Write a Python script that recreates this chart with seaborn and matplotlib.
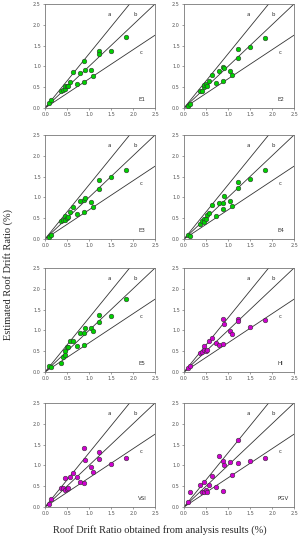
import numpy as np
import pandas as pd
import matplotlib
matplotlib.use("Agg")
import matplotlib.pyplot as plt
import seaborn as sns

# roof drift ratio from analysis results (%)
analysis = [0.08, 0.14, 0.36, 0.40, 0.45, 0.46, 0.50, 0.53, 0.57, 0.63, 0.73,
            0.80, 0.88, 0.89, 0.92, 1.04, 1.10, 1.22, 1.23, 1.50, 1.83]

# estimated roof drift ratio (%) for each intensity measure
est_E1 = [0.11, 0.19, 0.42, 0.44, 0.46, 0.52, 0.53, 0.54, 0.63, 0.87, 0.58,
          0.85, 0.63, 1.14, 0.91, 0.91, 0.76, 1.36, 1.30, 1.38, 1.70]
est_E2 = [0.06, 0.10, 0.42, 0.42, 0.50, 0.56, 0.58, 0.54, 0.65, 0.79, 0.60,
          0.90, 0.66, 0.98, 0.96, 0.88, 0.79, 1.41, 1.19, 1.46, 1.69]
est_E3 = [0.05, 0.09, 0.44, 0.46, 0.55, 0.46, 0.50, 0.54, 0.65, 0.78, 0.61,
          0.91, 0.65, 0.94, 0.99, 0.90, 0.78, 1.41, 1.20, 1.48, 1.67]
est_E4 = [0.10, 0.07, 0.35, 0.44, 0.49, 0.42, 0.47, 0.58, 0.62, 0.81, 0.55,
          0.86, 0.72, 0.86, 1.03, 0.92, 0.79, 1.37, 1.22, 1.45, 1.65]
est_E5 = [0.15, 0.12, 0.22, 0.36, 0.50, 0.42, 0.61, 0.59, 0.75, 0.75, 0.63,
          0.93, 0.65, 0.93, 1.05, 1.05, 0.98, 1.37, 1.19, 1.35, 1.75]
est_HI = [0.10, 0.15, 0.45, 0.48, 0.62, 0.54, 0.50, 0.54, 0.74, 0.81, 0.69,
          0.64, 0.68, 1.28, 1.16, 0.99, 0.91, 1.28, 1.23, 1.07, 1.25]
est_VSI = [0.08, 0.19, 0.46, 0.46, 0.69, 0.40, 0.44, 0.46, 0.72, 0.82, 0.71,
           0.59, 0.58, 1.41, 1.14, 0.97, 0.85, 1.33, 1.16, 1.04, 1.18]
est_PGV = [0.11, 0.37, 0.52, 0.35, 0.61, 0.35, 0.41, 0.35, 0.53, 0.74, 0.47,
           1.22, 0.39, 1.10, 1.01, 1.09, 0.76, 1.61, 1.05, 1.11, 1.18]

panel_names = ["E1", "E2", "E3", "E4", "E5", "HI", "VSI", "PGV"]
panel_data = [est_E1, est_E2, est_E3, est_E4, est_E5, est_HI, est_VSI, est_PGV]
panel_colors = ["#00d000"] * 5 + ["#d000d0"] * 3

# reference lines a, b, c
line_names = ["a", "b", "c"]
line_slopes = [1.3, 1.0, 0.7]

sns.set_style("white")

fig = plt.figure(figsize=(3.02, 5.5), dpi=100)

lefts = [45 / 302, 184 / 302]
width = 110 / 302
bottoms_px = [108, 239, 372, 507]
height = 104 / 550

for i, (name, est) in enumerate(zip(panel_names, panel_data)):
    r, c = divmod(i, 2)
    ax = fig.add_axes([lefts[c], 1 - bottoms_px[r] / 550, width, height])
    df = pd.DataFrame({"analysis": analysis, "estimated": est})
    xs = np.array([0, 2.5])
    for s in line_slopes:
        ax.plot(xs, s * xs, color="#333333", lw=0.6, zorder=1)
    sns.scatterplot(data=df, x="analysis", y="estimated", ax=ax,
                    color=panel_colors[i], edgecolor="#333333", linewidth=0.4,
                    s=11, zorder=3)
    ax.set_xlim(0, 2.5)
    ax.set_ylim(0, 2.5)
    ticks = np.arange(0, 2.51, 0.5)
    ax.set_xticks(ticks)
    ax.set_yticks(ticks)
    ax.set_xticklabels([f"{v:.1f}" for v in ticks])
    ax.set_yticklabels([f"{v:.1f}" for v in ticks])
    ax.tick_params(labelsize=3.5, length=1.5, width=0.4, pad=1.5,
                   colors="#555555", bottom=True, left=True)
    ax.set_xlabel("")
    ax.set_ylabel("")
    for sp in ax.spines.values():
        sp.set_color("#777777")
        sp.set_linewidth(0.6)
    ax.text(1.42, 2.2, "a", fontsize=4, color="#333333")
    ax.text(2.0, 2.2, "b", fontsize=4, color="#333333")
    ax.text(2.15, 1.3, "c", fontsize=4, color="#333333")
    ax.text(2.12, 0.18, name, fontsize=4, color="#333333")

fig.text(0.025, 0.5, "Estimated Roof Drift Ratio (%)", rotation=90,
         va="center", ha="center", fontsize=7.5, family="Liberation Serif")
fig.text(0.53, 0.036, "Roof Drift Ratio obtained from analysis results (%)",
         va="center", ha="center", fontsize=7.5, family="Liberation Serif")

fig.savefig("out.png", dpi=100)
